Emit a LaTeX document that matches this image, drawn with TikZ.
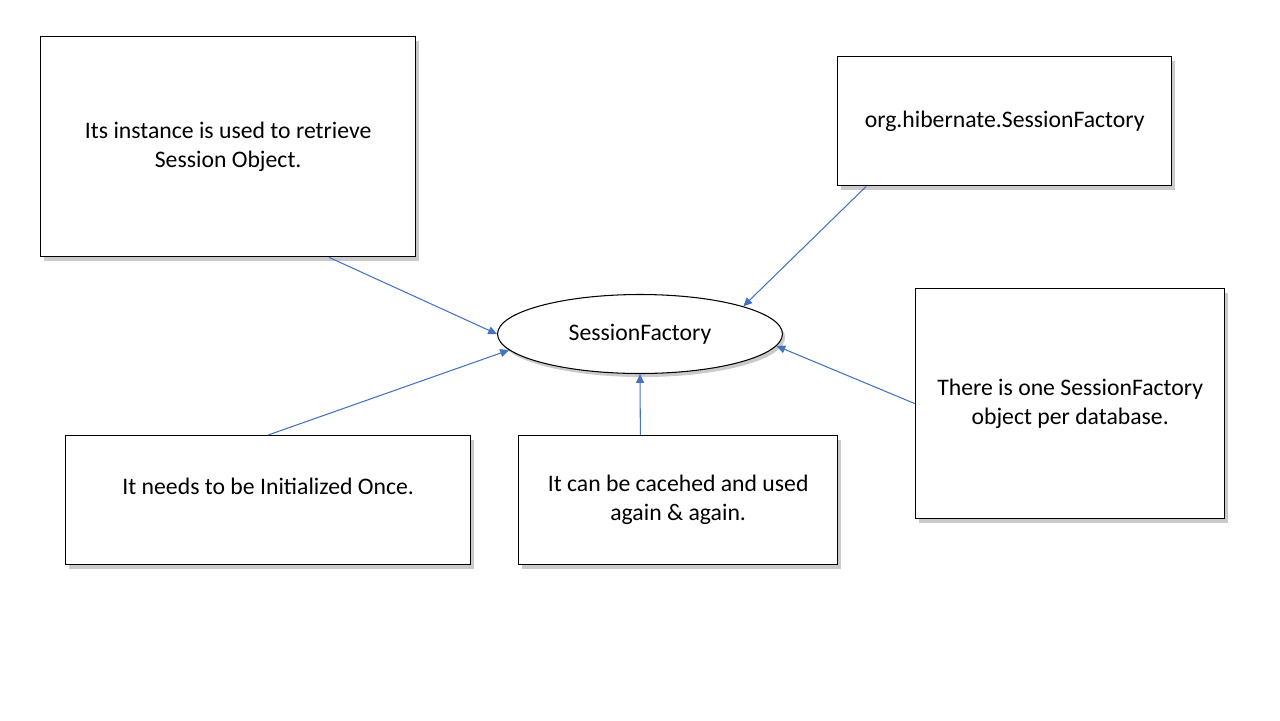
\documentclass[tikz,border=0pt]{standalone}
\usepackage{fontspec}
\setmainfont{Carlito}
\usetikzlibrary{calc, positioning}
\usetikzlibrary{shapes.geometric, shadows, arrows.meta}
\definecolor{linkblue}{HTML}{4472C4}
\tikzset{
    box/.style={draw, line width=0.8pt, fill=white, align=center, inner sep=0pt,
        anchor=north west, font=\fontsize{13.5}{16.4}\selectfont,
        drop shadow={shadow xshift=2pt, shadow yshift=-2.5pt, opacity=0.35, fill=black!60}},
    hub/.style={ellipse, draw, line width=0.6pt, fill=white, inner sep=0pt,
        minimum width=5.7cm, minimum height=1.58cm, font=\fontsize{13.5}{16.4}\selectfont,
        drop shadow={shadow xshift=1.5pt, shadow yshift=-2pt, opacity=0.35, fill=black!60}},
    link/.style={color=linkblue, line width=0.6pt, -{Triangle[length=5pt, width=4.5pt]}}
}

\begin{document}
\begin{tikzpicture}[x={(0.02cm,0)}, y={(0,-0.02cm)}]
      \useasboundingbox (0,0) rectangle (1280,720);
      \node[box, minimum width=7.5cm, minimum height=4.4cm] (inst) at (40,36)
        {Its instance is used to retrieve\\Session Object.};
      \node[box, minimum width=6.68cm, minimum height=2.58cm] (pkg) at (837,56)
        {org.hibernate.SessionFactory};
      \node[box, minimum width=6.18cm, minimum height=4.6cm] (perdb) at (915,288)
        {There is one SessionFactory\\object per database.};
      \node[box, minimum width=8.1cm, minimum height=2.58cm] (once) at (65,435)
        {It needs to be Initialized Once.\\~};
      \node[box, minimum width=6.38cm, minimum height=2.58cm] (cache) at (518,435)
        {It can be cacehed and used\\again \& again.};
      \node[hub] (sf) at (640,334) {SessionFactory};

      \path
        ($(inst.south west)!0.768!(inst.south east)$) edge[link] (sf.180)
        ($(pkg.south west)!0.087!(pkg.south east)$) edge[link] (sf.15.5)
        (perdb.west) edge[link] (sf.-5.5)
        (once.north) edge[link] (sf.187)
        ($(cache.north west)!0.382!(cache.north east)$) edge[link] (sf.south);
\end{tikzpicture}
\end{document}
